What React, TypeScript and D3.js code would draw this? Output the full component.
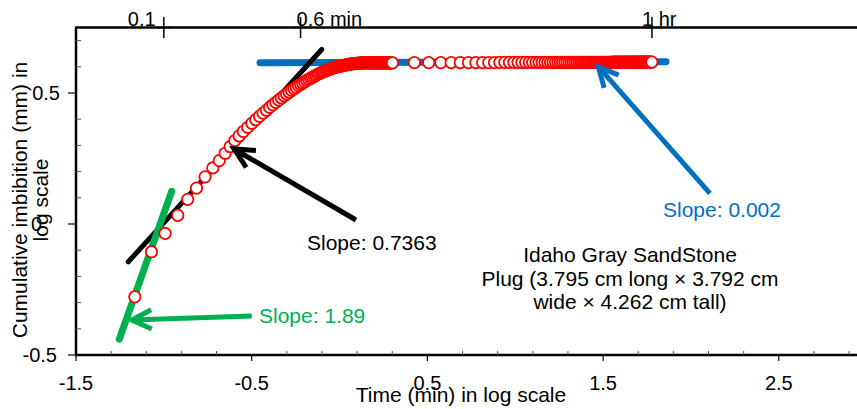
import React from 'react';
import * as d3 from 'd3';

// Early imbibition readings (1 s sampling), time in seconds
const earlyTimeSec = [
  4.1, 5.1, 6.1, 7.2, 8.2, 9.2, 10.3, 11.4, 12.4, 13.4, 14.3, 15.2, 16.1,
  17, 18, 19, 20, 21, 22, 23, 24, 25, 26, 27, 28, 29, 30, 31, 32, 33, 34, 35, 36,
  37, 38, 39, 40, 41, 42, 43, 44, 45, 46, 47, 48, 49, 50, 51, 52, 53, 54, 55, 56,
  57, 58, 59, 60, 61, 62, 63, 64, 65, 66, 67, 68, 69, 70, 71, 72, 73, 74, 75, 76,
  77, 78, 79, 80, 81, 82, 83, 84, 85, 86, 87, 88, 89, 90, 91, 92, 93, 94, 95, 96,
  97, 98, 99, 100, 101, 102, 103, 104, 105, 106, 107, 108, 109, 110, 111, 112,
  113, 114, 115, 116, 117, 118, 119, 120,
];
// log10 of cumulative imbibition (mm) for the early readings
const earlyLogImb = [
  -0.278, -0.106, -0.036, 0.033, 0.094, 0.137, 0.18, 0.214, 0.242, 0.27, 0.295, 0.318, 0.336,
  0.353, 0.369, 0.384, 0.398, 0.411, 0.423, 0.434, 0.445, 0.455, 0.464,
  0.473, 0.481, 0.489, 0.496, 0.503, 0.51, 0.516, 0.522, 0.528, 0.533,
  0.538, 0.543, 0.548, 0.552, 0.556, 0.56, 0.564, 0.567, 0.571, 0.574,
  0.577, 0.58, 0.582, 0.585, 0.587, 0.589, 0.591, 0.593, 0.595, 0.597,
  0.598, 0.6, 0.601, 0.602, 0.603, 0.604, 0.605, 0.606, 0.607, 0.608,
  0.609, 0.609, 0.61, 0.611, 0.611, 0.612, 0.612, 0.613, 0.613, 0.613,
  0.614, 0.614, 0.614, 0.614,
  0.615, 0.615, 0.615, 0.615, 0.615, 0.615, 0.615, 0.615, 0.615, 0.615,
  0.615, 0.615, 0.615, 0.615, 0.615, 0.615, 0.615, 0.615, 0.615, 0.615,
  0.615, 0.615, 0.615, 0.615, 0.615, 0.615, 0.615, 0.615, 0.615, 0.615,
  0.615, 0.615, 0.615, 0.615, 0.615, 0.615, 0.615, 0.615, 0.615, 0.615,
];

// Later readings (33 s sampling up to one hour), time in seconds
const lateTimeSec = [
  160, 193, 226, 259, 292, 325, 358, 391, 424, 457,
  490, 523, 556, 589, 622, 655, 688, 721, 754, 787,
  820, 853, 886, 919, 952, 985, 1018, 1051, 1084, 1117,
  1150, 1183, 1216, 1249, 1282, 1315, 1348, 1381, 1414, 1447,
  1480, 1513, 1546, 1579, 1612, 1645, 1678, 1711, 1744, 1777,
  1810, 1843, 1876, 1909, 1942, 1975, 2008, 2041, 2074, 2107,
  2140, 2173, 2206, 2239, 2272, 2305, 2338, 2371, 2404, 2437,
  2470, 2503, 2536, 2569, 2602, 2635, 2668, 2701, 2734, 2767,
  2800, 2833, 2866, 2899, 2932, 2965, 2998, 3031, 3064, 3097,
  3130, 3163, 3196, 3229, 3262, 3295, 3328, 3361, 3394, 3427,
  3460, 3493, 3526, 3559, 3592,
];
const lateLogImb = [
  0.616, 0.616, 0.616, 0.616, 0.616, 0.616, 0.616, 0.616, 0.616, 0.616,
  0.617, 0.617, 0.617, 0.617, 0.617, 0.617, 0.617, 0.617, 0.617, 0.617,
  0.617, 0.617, 0.617, 0.617, 0.617, 0.617, 0.617, 0.617, 0.617, 0.617,
  0.617, 0.617, 0.617, 0.617, 0.617, 0.617, 0.617, 0.617, 0.617, 0.617,
  0.617, 0.617, 0.617, 0.617, 0.617, 0.617, 0.617, 0.617, 0.617, 0.617,
  0.617, 0.617, 0.617, 0.617, 0.617, 0.617, 0.617, 0.617, 0.617, 0.617,
  0.618, 0.618, 0.618, 0.618, 0.618, 0.618, 0.618, 0.618, 0.618, 0.618,
  0.618, 0.618, 0.618, 0.618, 0.618, 0.618, 0.618, 0.618, 0.618, 0.618,
  0.618, 0.618, 0.618, 0.618, 0.618, 0.618, 0.618, 0.618, 0.618, 0.618,
  0.618, 0.618, 0.618, 0.618, 0.618, 0.618, 0.618, 0.618, 0.618, 0.618,
  0.618, 0.618, 0.618, 0.618, 0.618,
];

// Power-law trend lines in log-log space: logQ = slope * logT + intercept
const trendSlopes = [0.002, 0.7363, 1.89];
const trendIntercepts = [0.616, 0.741, 1.93];
const trendFrom = [-0.453, -1.2023, -1.2536];
const trendTo = [1.858, -0.1016, -0.9553];
const trendColors = ['#0070C0', '#000000', '#00B050'];
const trendWidths = [7, 5, 7];

// Axis ticks
const xTicks = [-1.5, -0.5, 0.5, 1.5, 2.5];
const xTickLabels = ['-1.5', '-0.5', '0.5', '1.5', '2.5'];
const xMinorTicks = [-1.3, -1.1, -0.9, -0.7, -0.3, -0.1, 0.1, 0.3, 0.7, 0.9, 1.1, 1.3, 1.7, 1.9, 2.1, 2.3, 2.7, 2.9];
const yTicks = [-0.5, 0, 0.5];
const yTickLabels = ['-0.5', '0', '0.5'];
const yLabelRight = [57, 42, 60];
const yMinorTicks = [-0.4, -0.3, -0.2, -0.1, 0.1, 0.2, 0.3, 0.4, 0.6, 0.7];

// Secondary time markers (minutes)
const topTickMinutes = [0.1, 0.6, 60];
const topTickLabels = ['0.1', '0.6 min', '1 hr'];
const topLabelDx = [-36, -4, -10];

// Annotation arrows in data space: [logT, logQ]
const arrowTails = [[0.0936, 0.0153], [-0.5, -0.3511], [2.108, 0.1172]];
const arrowTips = [[-0.6007, 0.2863], [-1.183, -0.3664], [1.4727, 0.6004]];
const arrowColors = ['#000000', '#00B050', '#0070C0'];

const FONT = '"Liberation Sans", Arial, Helvetica, sans-serif';

export default function App() {
  const W = 857;
  const H = 409;
  const x = d3.scaleLinear().domain([-1.5, 3]).range([76, 76 + 4.5 * 175.7]);
  const y = d3.scaleLinear().domain([-0.5, 0.75]).range([355, 27.5]);
  const x0 = x(-1.5);
  const yb = y(-0.5);
  const yt = y(0.75);

  const points = [
    ...earlyTimeSec.map((t, i) => ({ lt: Math.log10(t / 60), lq: earlyLogImb[i] })),
    ...lateTimeSec.map((t, i) => ({ lt: Math.log10(t / 60), lq: lateLogImb[i] })),
  ];

  const line = d3.line<[number, number]>().x((d) => x(d[0])).y((d) => y(d[1]));

  const arrowHead = (tail: number[], tip: number[]) => {
    const tx = x(tip[0]);
    const ty = y(tip[1]);
    const ang = Math.atan2(y(tail[1]) - ty, x(tail[0]) - tx);
    const len = 22;
    const spread = (26 * Math.PI) / 180;
    const a = [tx + len * Math.cos(ang + spread), ty + len * Math.sin(ang + spread)];
    const b = [tx + len * Math.cos(ang - spread), ty + len * Math.sin(ang - spread)];
    return `M${a[0]},${a[1]}L${tx},${ty}L${b[0]},${b[1]}`;
  };

  return (
    <svg
      width={W}
      height={H}
      style={{ position: 'absolute', left: 0, top: 0, background: '#fff' }}
      fontFamily={FONT}
    >
      <rect width={W} height={H} fill="#fff" />

      {/* trend lines */}
      {trendSlopes.map((s, i) => (
        <path
          key={`tr${i}`}
          d={line([
            [trendFrom[i], s * trendFrom[i] + trendIntercepts[i]],
            [trendTo[i], s * trendTo[i] + trendIntercepts[i]],
          ]) as string}
          stroke={trendColors[i]}
          strokeWidth={trendWidths[i]}
          strokeLinecap="round"
          fill="none"
        />
      ))}

      {/* measured imbibition */}
      {points.map((p, i) => (
        <circle
          key={`p${i}`}
          cx={x(p.lt)}
          cy={y(p.lq)}
          r={5.7}
          fill="#fff"
          stroke="#FF0000"
          strokeWidth={1.8}
        />
      ))}

      {/* axes */}
      <line x1={x0} x2={x0} y1={yt} y2={yb} stroke="#000" strokeWidth={2.5} />
      <line x1={x0 - 1} x2={W + 10} y1={yb} y2={yb} stroke="#000" strokeWidth={2.5} />
      <line x1={x0 - 1} x2={W + 10} y1={yt} y2={yt} stroke="#000" strokeWidth={2.5} />

      {xTicks.map((v, i) => (
        <g key={`xt${i}`}>
          <line x1={x(v)} x2={x(v)} y1={yb} y2={yb + 6} stroke="#000" strokeWidth={1.2} />
          <text x={x(v)} y={390} fontSize={20} textAnchor="middle" fill="#000">
            {xTickLabels[i]}
          </text>
        </g>
      ))}
      {xMinorTicks.map((v, i) => (
        <line key={`xm${i}`} x1={x(v)} x2={x(v)} y1={yb} y2={yb - 4} stroke="#555" strokeWidth={1} />
      ))}
      {yTicks.map((v, i) => (
        <g key={`yt${i}`}>
          <line x1={x0 - 8} x2={x0} y1={y(v)} y2={y(v)} stroke="#000" strokeWidth={1.2} />
          <text x={yLabelRight[i]} y={y(v) + 7} fontSize={20} textAnchor="end" fill="#000">
            {yTickLabels[i]}
          </text>
        </g>
      ))}
      {yMinorTicks.map((v, i) => (
        <line key={`ym${i}`} x1={x0} x2={x0 + 5} y1={y(v)} y2={y(v)} stroke="#555" strokeWidth={1} />
      ))}

      {/* secondary time markers */}
      {topTickMinutes.map((m, i) => {
        const px = x(Math.log10(m));
        return (
          <g key={`tt${i}`}>
            <line x1={px} x2={px} y1={yt - 10.5} y2={yt + 10.5} stroke="#000" strokeWidth={1.5} />
            <line x1={px - 10} x2={px + 10} y1={yt} y2={yt} stroke="#000" strokeWidth={1.5} />
            <text x={px + topLabelDx[i]} y={26} fontSize={20} fill="#000">
              {topTickLabels[i]}
            </text>
          </g>
        );
      })}

      {/* annotation arrows */}
      {arrowTails.map((tail, i) => (
        <g key={`ar${i}`} stroke={arrowColors[i]} strokeWidth={5} fill="none" strokeLinecap="butt">
          <path d={line([tail as [number, number], arrowTips[i] as [number, number]]) as string} />
          <path d={arrowHead(tail, arrowTips[i])} strokeLinejoin="miter" />
        </g>
      ))}

      {/* annotations */}
      <text x={307} y={250} fontSize={21} fill="#000">Slope: 0.7363</text>
      <text x={259} y={323} fontSize={21} fill="#00B050">Slope: 1.89</text>
      <text x={663} y={217} fontSize={21} fill="#0070C0">Slope: 0.002</text>
      <g fontSize={21} fill="#000" textAnchor="middle">
        <text x={630} y={262}>Idaho Gray SandStone</text>
        <text x={630} y={286}>Plug (3.795 cm long × 3.792 cm</text>
        <text x={630} y={309}>wide × 4.262 cm tall)</text>
      </g>

      {/* axis titles */}
      <text x={461} y={402} fontSize={21} textAnchor="middle" fill="#000">
        Time (min) in log scale
      </text>
      <g fontSize={21} fill="#000" textAnchor="middle">
        <text transform="translate(27,200) rotate(-90)">Cumulative imbibition (mm) in</text>
        <text transform="translate(48,200) rotate(-90)">log scale</text>
      </g>
    </svg>
  );
}
